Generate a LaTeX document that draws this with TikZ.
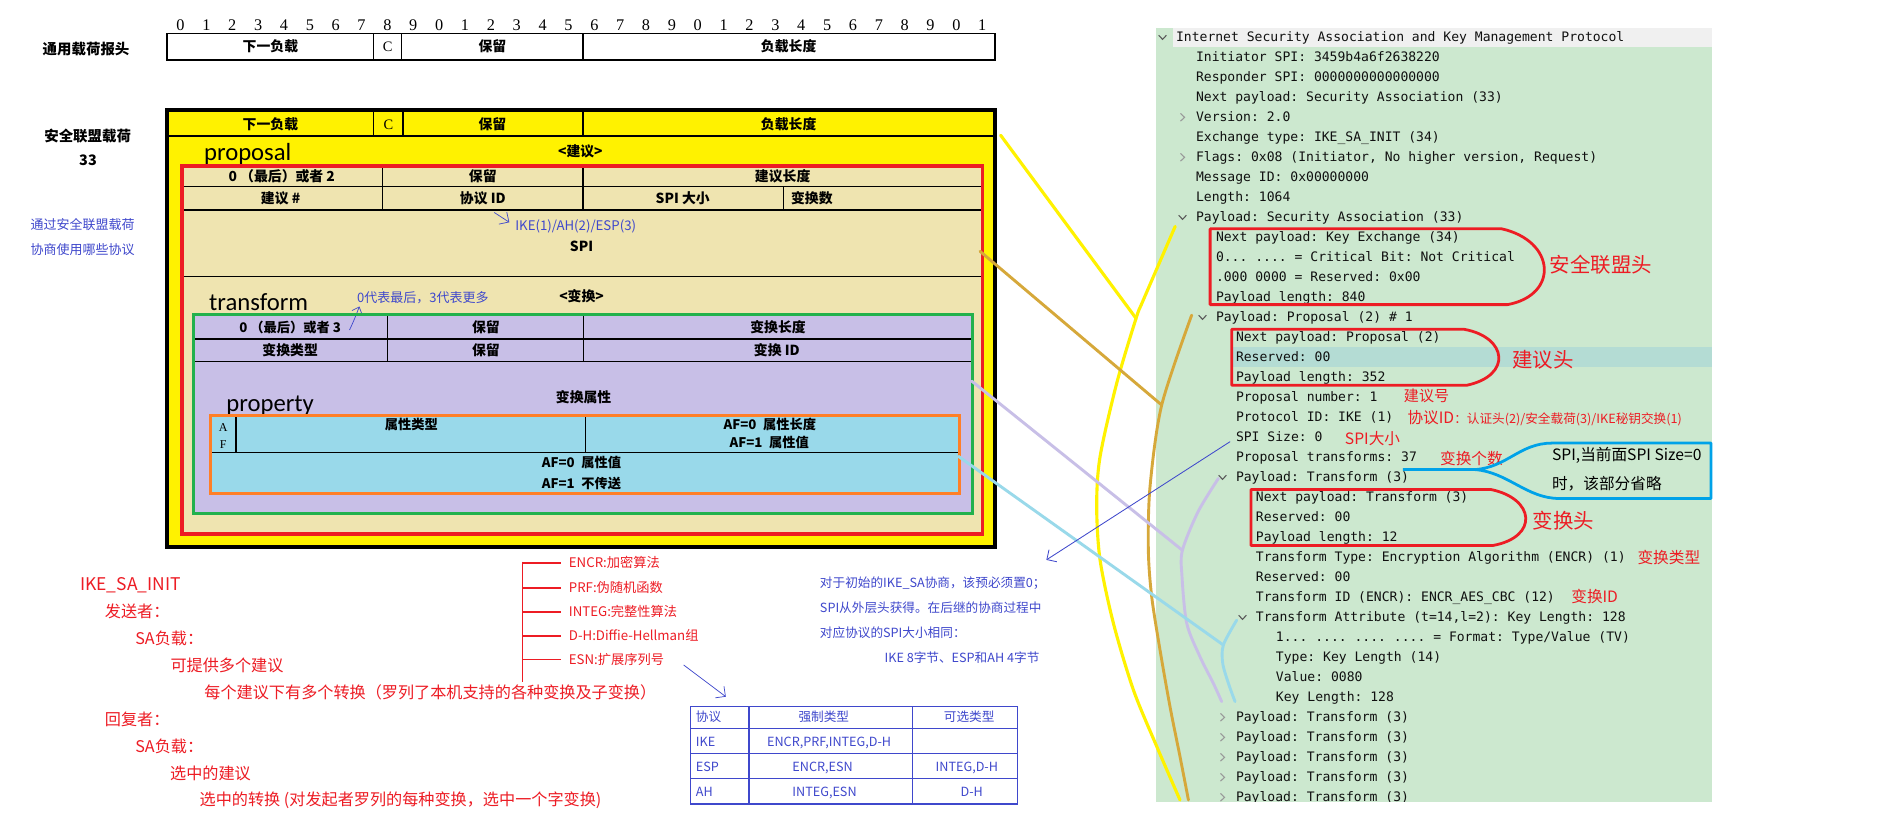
\documentclass[tikz,border=0pt]{standalone}
\usepackage{fontspec}
\usetikzlibrary{arrows.meta}
\setmainfont{Noto Sans CJK SC}
\newfontfamily\cjk{Noto Sans CJK SC}
\newfontfamily\wsmono{DejaVu Sans Mono}
\newfontfamily\carl{Carlito}
\newfontfamily\lser{Liberation Serif}
\newcommand\fs[1]{\fontsize{#1}{#1}\selectfont}
\definecolor{pyellow}{HTML}{FFF200}
\definecolor{pred}{HTML}{ED1C24}
\definecolor{pgreen}{HTML}{22B14C}
\definecolor{porange}{HTML}{FF7F27}
\definecolor{cream}{HTML}{EFE4B0}
\definecolor{lav}{HTML}{C8BFE7}
\definecolor{lblue}{HTML}{99D9EA}
\definecolor{gold}{HTML}{D6A83A}
\definecolor{txtblue}{HTML}{3F48CC}
\definecolor{callblue}{HTML}{00A2E8}
\definecolor{wsbg}{HTML}{CCE8CF}
\definecolor{wshl}{HTML}{B4DCD4}
\definecolor{wshead}{HTML}{F0F0F0}
\definecolor{wstxt}{HTML}{101010}
\newcommand\wsl[4]{\node[ws] (#1) at ({976.7+16.6*#2},{31+16.61*#3+3.8}) {#4};}
\newcommand\wsv[2]{\draw[chev] ({976.7+16.6*#1-11.2-3.2},{31+16.61*#2-1.7}) -- ++(3.2,3.4) -- ++(3.2,-3.4);}
\newcommand\wsr[2]{\draw[chevl] ({976.7+16.6*#1-11.2-1.7},{31+16.61*#2-3.2}) -- ++(3.4,3.2) -- ++(-3.4,3.2);}
\begin{document}
\begin{tikzpicture}[x=1pt,y=-1pt,
  every node/.style={inner sep=0pt, outer sep=0pt},
  cell/.style={font=\cjk\bfseries\fs{11.5}, text height=9.2pt, text depth=1.15pt},
  scell/.style={font=\cjk\bfseries\fs{11}, text height=8.8pt, text depth=1.1pt},
  bitn/.style={font=\lser\fs{13.5}, text height=10.8pt, text depth=1.3pt},
  hlabel/.style={font=\cjk\bfseries\fs{12}, text height=9.6pt, text depth=1.2pt},
  big/.style={font=\carl\fs{20.5}, anchor=base west},
  btxt/.style={font=\cjk\fs{10.5}, text=txtblue, text height=8.4pt, text depth=1.05pt},
  rtxt/.style={font=\cjk\fs{13.4}, text=pred, text height=10.7pt, text depth=1.3pt, anchor=west},
  rsm/.style={font=\cjk\fs{11}, text=pred, text height=8.8pt, text depth=1.1pt, anchor=west},
  ann/.style={text=pred, anchor=west},
  ws/.style={font=\wsmono\fs{10.85}\frenchspacing, text=wstxt, anchor=base west},
  chev/.style={draw=black!65, line width=0.9pt},
  chevl/.style={draw=black!40, line width=0.9pt},
  thin/.style={draw=black, line width=1.1pt},
  conn/.style={line width=2.4pt, line cap=round, line join=round},
  redshape/.style={draw=pred, line width=2.3pt, line join=round},
  barb/.style={-{Straight Barb[length=6pt,width=12pt]}, draw=txtblue, line width=0.6pt}
]
\useasboundingbox (0,0) rectangle (1568,687);
\fill[white] (0,0) rectangle (1568,687);

% ---------- bit numbers and generic header ----------
\foreach \d [count=\k from 0] in {0,1,2,3,4,5,6,7,8,9,0,1,2,3,4,5,6,7,8,9,0,1,2,3,4,5,6,7,8,9,0,1}
  \node[bitn] (bit\k) at ({149.9+21.48*\k},20.2) {\d};
\node[hlabel] (genlbl) at (71.5,41) {通用载荷报头};
\draw[thin] (138.8,27.7) rectangle (826.3,49.8);
\draw[thin] (310.4,27.7) -- (310.4,49.8) (333.7,27.7) -- (333.7,49.8) (484.1,27.7) -- (484.1,49.8);
\node[cell] (g1) at (224.6,38.8) {下一负载};
\node[cell,font=\lser\fs{12}] (g2) at (322,38.8) {C};
\node[cell] (g3) at (409,38.8) {保留};
\node[cell] (g4) at (655,38.8) {负载长度};

% ---------- SA payload ----------
\node[hlabel] (salbl) at (72.8,113.5) {安全联盟载荷};
\node[hlabel] (sanum) at (73.1,132.9) {33};
\fill[pyellow] (138.8,91.5) rectangle (826.4,454);
\draw[thin] (138.8,113) -- (826.4,113);
\draw[thin] (310.4,91.5) -- (310.4,113) (334.8,91.5) -- (334.8,113) (484.1,91.5) -- (484.1,113);
\node[cell] (s1) at (224.6,103.3) {下一负载};
\node[cell,font=\lser\fs{12}] (s2) at (322.6,103.3) {C};
\node[cell] (s3) at (409,103.3) {保留};
\node[cell] (s4) at (655,103.3) {负载长度};
\node[big] (propl) at (169.5,133) {proposal};
\node[cell] (jianyi) at (482,126) {<建议>};

% proposal (red)
\fill[cream] (151,138) rectangle (815.9,443.5);
\draw[thin] (151,155) -- (815.9,155) (151,174.4) -- (815.9,174.4) (151,229.8) -- (815.9,229.8);
\draw[thin] (317.8,138) -- (317.8,174.4) (484.1,138) -- (484.1,174.4) (650.5,155) -- (650.5,174.4);
\node[cell] (p1) at (234,146.3) {0 （最后）或者 2};
\node[cell] (p2) at (401,146.3) {保留};
\node[cell] (p3) at (650,146.3) {建议长度};
\node[cell] (p4) at (233,165) {建议 \#};
\node[cell] (p5) at (401,165) {协议 ID};
\node[cell] (p6) at (567,165) {SPI 大小};
\node[cell,anchor=west] (p7) at (657,165) {变换数};
\node[cell] (pspi) at (483,204.9) {SPI};
\node[btxt,anchor=west,font=\cjk\fs{11}] (ikeid) at (428,187.7) {IKE(1)/AH(2)/ESP(3)};
\draw[barb] (410.5,176.5) -- (423,184.6);

\node[big] (transl) at (173.7,257.5) {transform};
\node[btxt,anchor=west,font=\cjk\fs{10.8}] (zero) at (296.6,247.8) {0代表最后，3代表更多};
\node[cell] (bianhuan) at (483,246.4) {<变换>};

% transform (green)
\fill[lav] (160.5,261) rectangle (807.8,426.3);
\draw[thin] (160.5,281.6) -- (807.8,281.6) (160.5,300.4) -- (807.8,300.4);
\draw[thin] (322,261) -- (322,300.4) (484.7,261) -- (484.7,300.4);
\node[scell] (t1) at (241,272.3) {0 （最后）或者 3};
\node[cell] (t2) at (403.6,272.3) {保留};
\node[cell] (t3) at (646.2,272.3) {变换长度};
\node[cell] (t4) at (241,291) {变换类型};
\node[cell] (t5) at (403.6,291) {保留};
\node[cell] (t6) at (645.2,291) {变换 ID};
\node[cell] (t7) at (484.7,330) {变换属性};
\draw[draw=txtblue, line width=0.6pt, -{Straight Barb[length=5pt,width=9pt]}] (290.3,274) .. controls (294,266) .. (298.5,254.5);
\node[big] (propty) at (188,342) {property};

% property (orange)
\fill[lblue] (174.8,344.7) rectangle (797.2,409.7);
\draw[thin] (174.8,376) -- (797.2,376);
\draw[thin] (196,344.7) -- (196,376) (486.3,344.7) -- (486.3,376);
\node[scell,font=\lser\fs{10}] (aa) at (185.4,354.4) {A};
\node[scell,font=\lser\fs{10}] (ff) at (185.4,369) {F};
\node[scell] (o1) at (341.7,353) {属性类型};
\node[scell,anchor=west] (o2) at (601,353) {AF=0\enspace 属性长度};
\node[scell,anchor=west] (o3) at (606,368.2) {AF=1\enspace 属性值};
\node[scell,anchor=west] (o4) at (450,384.8) {AF=0\enspace 属性值};
\node[scell,anchor=west] (o5) at (450,402) {AF=1\enspace 不传送};

\draw[porange, line width=2.5pt] (174.8,344.7) rectangle (797.2,409.7);
\draw[pgreen, line width=2.5pt] (160.5,261) rectangle (807.8,426.3);
\draw[pred, line width=3pt] (151,138) rectangle (815.9,443.5);
\draw[black, line width=3.5pt] (138.8,91.5) rectangle (826.4,454);

% ---------- left blue notes ----------
\node[btxt,anchor=west,font=\cjk\fs{10.8}] (note1) at (25.4,186.9) {通过安全联盟载荷};
\node[btxt,anchor=west,font=\cjk\fs{10.8}] (note2) at (25.4,207.6) {协商使用哪些协议};

% ---------- bottom-left red text ----------
\node[rtxt,font=\cjk\fs{14.5}] (r1) at (66.7,485.9) {IKE\_SA\_INIT};
\node[rtxt] (r2) at (87.1,508) {发送者：};
\node[rtxt] (r3) at (112.4,530.7) {SA负载：};
\node[rtxt] (r4) at (141.6,553.1) {可提供多个建议};
\node[rtxt] (r5) at (169.8,575.8) {每个建议下有多个转换（罗列了本机支持的各种变换及子变换）};
\node[rtxt] (r6) at (87.1,598) {回复者：};
\node[rtxt] (r7) at (112.4,620.1) {SA负载：};
\node[rtxt] (r8) at (141.3,642.8) {选中的建议};
\node[rtxt] (r9) at (165.8,664.4) {选中的转换 (对发起者罗列的每种变换，选中一个字变换)};

% ENCR list
\coordinate (ltop) at (433.8,466.5);
\coordinate (lbot) at (433.8,566.1);
\draw[pred, line width=1pt] (ltop) -- (lbot);
\foreach \t/\y [count=\k] in {ENCR:加密算法/467.5, PRF:伪随机函数/488.3, INTEG:完整性算法/508.3, D-H:Diffie-Hellman组/528.2, ESN:扩展序列号/548}{
  \node[rsm] (alg\k) at (472.5,\y) {\t};
  \draw[pred, line width=1pt] (433.8,\y) -- (466.3,\y);
}
\draw[barb] (567.8,552.3) -- (602.8,578.6);

% table
\draw[txtblue, line width=1.2pt] (573.6,586.9) rectangle (845,667.7);
\draw[txtblue, line width=1.2pt] (573.6,604.9) -- (845,604.9) (573.6,625.7) -- (845,625.7) (573.6,646.7) -- (845,646.7)
   (621.9,586.9) -- (621.9,667.7) (757.9,586.9) -- (757.9,667.7);
\node[btxt,anchor=west] (th1) at (578,595.6) {协议};
\node[btxt] (th2) at (684.2,595.6) {强制类型};
\node[btxt] (th3) at (804.9,595.6) {可选类型};
\node[btxt,anchor=west] (tr1) at (578,616) {IKE};
\node[btxt] (tr1b) at (688.6,616) {ENCR,PRF,INTEG,D-H};
\node[btxt,anchor=west] (tr2) at (578,637) {ESP};
\node[btxt] (tr2b) at (683.2,637) {ENCR,ESN};
\node[btxt] (tr2c) at (803,637) {INTEG,D-H};
\node[btxt,anchor=west] (tr3) at (578,658) {AH};
\node[btxt] (tr3b) at (684.8,658) {INTEG,ESN};
\node[btxt] (tr3c) at (807,658) {D-H};

% blue paragraph
\node[btxt,anchor=west] (bp1) at (681,484.5) {对于初始的IKE\_SA协商，该预必须置0；};
\node[btxt,anchor=west] (bp2) at (681,505.2) {SPI从外层头获得。在后继的协商过程中};
\node[btxt,anchor=west] (bp3) at (681,526) {对应协议的SPI大小相同：};
\node[btxt,anchor=west] (bp4) at (734.7,546.8) {IKE 8字节、ESP和AH 4字节};

% ---------- Wireshark panel ----------
\fill[wsbg] (960,23.5) rectangle (1422,666);
\fill[wshead] (974,23.5) rectangle (1422,38.8);
\fill[wshl] (1023,288.5) rectangle (1422,305);
\begin{scope}
\clip (960,23.5) rectangle (1422,666);
\wsl{w0}{0}{0}{Internet Security Association and Key Management Protocol}
\wsl{w1}{1}{1}{Initiator SPI: 3459b4a6f2638220}
\wsl{w2}{1}{2}{Responder SPI: 0000000000000000}
\wsl{w3}{1}{3}{Next payload: Security Association (33)}
\wsl{w4}{1}{4}{Version: 2.0}
\wsl{w5}{1}{5}{Exchange type: IKE\_SA\_INIT (34)}
\wsl{w6}{1}{6}{Flags: 0x08 (Initiator, No higher version, Request)}
\wsl{w7}{1}{7}{Message ID: 0x00000000}
\wsl{w8}{1}{8}{Length: 1064}
\wsl{w9}{1}{9}{Payload: Security Association (33)}
\wsl{w10}{2}{10}{Next payload: Key Exchange (34)}
\wsl{w11}{2}{11}{0... .... = Critical Bit: Not Critical}
\wsl{w12}{2}{12}{.000 0000 = Reserved: 0x00}
\wsl{w13}{2}{13}{Payload length: 840}
\wsl{w14}{2}{14}{Payload: Proposal (2) \# 1}
\wsl{w15}{3}{15}{Next payload: Proposal (2)}
\wsl{w16}{3}{16}{Reserved: 00}
\wsl{w17}{3}{17}{Payload length: 352}
\wsl{w18}{3}{18}{Proposal number: 1}
\wsl{w19}{3}{19}{Protocol ID: IKE (1)}
\wsl{w20}{3}{20}{SPI Size: 0}
\wsl{w21}{3}{21}{Proposal transforms: 37}
\wsl{w22}{3}{22}{Payload: Transform (3)}
\wsl{w23}{4}{23}{Next payload: Transform (3)}
\wsl{w24}{4}{24}{Reserved: 00}
\wsl{w25}{4}{25}{Payload length: 12}
\wsl{w26}{4}{26}{Transform Type: Encryption Algorithm (ENCR) (1)}
\wsl{w27}{4}{27}{Reserved: 00}
\wsl{w28}{4}{28}{Transform ID (ENCR): ENCR\_AES\_CBC (12)}
\wsl{w29}{4}{29}{Transform Attribute (t=14,l=2): Key Length: 128}
\wsl{w30}{5}{30}{1... .... .... .... = Format: Type/Value (TV)}
\wsl{w31}{5}{31}{Type: Key Length (14)}
\wsl{w32}{5}{32}{Value: 0080}
\wsl{w33}{5}{33}{Key Length: 128}
\wsl{w34}{3}{34}{Payload: Transform (3)}
\wsl{w35}{3}{35}{Payload: Transform (3)}
\wsl{w36}{3}{36}{Payload: Transform (3)}
\wsl{w37}{3}{37}{Payload: Transform (3)}
\wsl{w38}{3}{38}{Payload: Transform (3)}
\wsv{0}{0} \wsv{1}{9} \wsv{2}{14} \wsv{3}{22} \wsv{4}{29}
\wsr{1}{4} \wsr{1}{6}
\foreach \i in {34,...,38} {\wsr{3}{\i}}
\end{scope}

% annotations on the panel
\draw[redshape] (1005,190) -- (1247,190) .. controls (1292,200) and (1295,245) .. (1252,253) -- (1005,253) -- cycle;
\node[ann,font=\cjk\fs{17}] (a1) at (1287,220) {安全联盟头};
\draw[redshape] (1023,273.5) -- (1216,273.5) .. controls (1252,280) and (1256,312) .. (1218,320) -- (1023,320) -- cycle;
\node[ann,font=\cjk\fs{17}] (a2) at (1256,299) {建议头};
\node[ann,font=\cjk\fs{12.5}] (a3) at (1166,329) {建议号};
\node[ann] (a4) at (1169,347) {{\cjk\fs{13}协议ID}{\cjk\fs{10.5}：认证头(2)/安全载荷(3)/IKE秘钥交换(1)}};
\node[ann,font=\cjk\fs{13}] (a5) at (1117,364) {SPI大小};
\node[ann,font=\cjk\fs{13}] (a6) at (1196,381) {变换个数};
\draw[redshape] (1039,406.5) -- (1238,406.5) .. controls (1275,414) and (1278,446) .. (1240,453) -- (1039,453) -- cycle;
\node[ann,font=\cjk\fs{17}] (a7) at (1273,432.7) {变换头};
\node[ann,font=\cjk\fs{13}] (a8) at (1360,463) {变换类型};
\node[ann,font=\cjk\fs{13}] (a9) at (1305,495.6) {变换ID};

\coordinate (ctip) at (1225,390);
\draw[callblue, line width=2.3pt, line join=round] (1165,390) -- (ctip) .. controls (1252,388) and (1262,368) .. (1289,368) -- (1421,368) -- (1421,414) -- (1295,414) .. controls (1268,414) and (1252,392) .. (ctip);
\node[anchor=west,font=\cjk\fs{13}] (c1) at (1289,378) {SPI,当前面SPI Size=0};
\node[anchor=west,font=\cjk\fs{13}] (c2) at (1289,401.5) {时，该部分省略};

% ---------- colored connectors ----------
\coordinate (y0) at (831,112.3);
\coordinate (y1) at (943.5,264.4);
\coordinate (g0) at (813.9,208.7);
\coordinate (g1) at (964.8,336.4);
\coordinate (l0) at (807,316.5);
\coordinate (l1) at (982,457);
\coordinate (c0) at (796,379);
\coordinate (c1p) at (1016,535.7);
\draw[conn, pyellow, line width=2.6pt] (y0) -- (y1);
\draw[conn, pyellow, line width=2.6pt] plot[smooth, tension=0.5] coordinates {(976,188) (949.6,249) (y1) (927.4,318.4) (913.6,379.3) (910.8,420) (913.6,465) (924.7,517.7) (941.3,573) (960.7,620) (980,664.4)};
\draw[conn, gold] (g0) -- (g1);
\draw[conn, gold] plot[smooth, tension=0.5] coordinates {(989.7,261.7) (g1) (955.1,404.2) (953.7,456.8) (956.5,495.6) (963.4,539.8) (971.7,586.9) (980,628.4) (987,664.4)};
\draw[conn, lav] (l0) -- (l1);
\draw[conn, lav] plot[smooth, tension=0.5] coordinates {(1011.9,397.3) (995,425) (l1) (981.6,478) (985.6,517.7) (996.6,545.4) (1007.7,567.5) (1014.6,582.7)};
\draw[conn, lblue] (c0) -- (c1p);
\draw[conn, lblue] plot[smooth, tension=0.5] coordinates {(1027.1,515) (c1p) (1015.5,551) (1020.2,567.5) (1025.7,582.7)};

% SPI size arrow
\coordinate (sp0) at (1021.6,366.8);
\coordinate (sp1) at (869,465);
\draw[barb, line width=0.7pt] (sp0) -- (sp1);
\end{tikzpicture}
\end{document}
